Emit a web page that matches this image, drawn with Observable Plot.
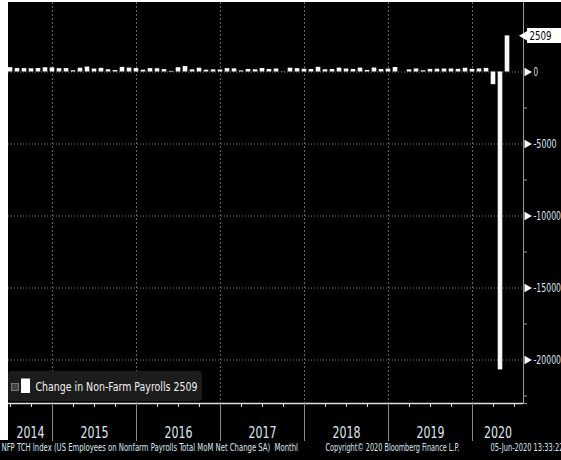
<!DOCTYPE html>
<html><head><meta charset="utf-8">
<script src="https://cdn.jsdelivr.net/npm/d3@7"></script>
<script src="https://cdn.jsdelivr.net/npm/@observablehq/plot@0.6"></script>
<style>
html,body{margin:0;padding:0;background:#000;}
svg{display:block;}
</style></head><body><div id="chart"></div>
<script>
// ---- data ----
const months = [
  "2014-06","2014-07","2014-08","2014-09","2014-10","2014-11","2014-12",
  "2015-01","2015-02","2015-03","2015-04","2015-05","2015-06","2015-07","2015-08","2015-09","2015-10","2015-11","2015-12",
  "2016-01","2016-02","2016-03","2016-04","2016-05","2016-06","2016-07","2016-08","2016-09","2016-10","2016-11","2016-12",
  "2017-01","2017-02","2017-03","2017-04","2017-05","2017-06","2017-07","2017-08","2017-09","2017-10","2017-11","2017-12",
  "2018-01","2018-02","2018-03","2018-04","2018-05","2018-06","2018-07","2018-08","2018-09","2018-10","2018-11","2018-12",
  "2019-01","2019-02","2019-03","2019-04","2019-05","2019-06","2019-07","2019-08","2019-09","2019-10","2019-11","2019-12",
  "2020-01","2020-02","2020-03","2020-04","2020-05"
];
const payrolls = [
  304,240,236,226,243,296,290,
  234,238,86,262,344,206,254,157,100,321,272,239,
  126,237,225,167,43,297,379,149,265,125,148,140,
  237,219,73,175,155,243,178,209,14,265,235,191,
  176,324,155,175,268,208,177,272,111,277,170,200,
  312,1,147,210,85,182,194,207,208,185,261,184,
  214,251,-881,-20687,2509
];
const yearLabels = ["2014","2015","2016","2017","2018","2019","2020"];
const yMajorTicks = [0,-5000,-10000,-15000,-20000];
const yMinorTicks = [2500,-2500,-7500,-12500,-17500,-22500];
const lastValueLabel = "2509";
const legendLabel = "Change in Non-Farm Payrolls 2509";
const footerLeft = "NFP TCH Index (US Employees on Nonfarm Payrolls Total MoM Net Change SA)  Monthl";
const footerMid = "Copyright\u00A9 2020 Bloomberg Finance L.P.";
const footerRight = "05-Jun-2020 13:33:22";

// ---- helpers (month index: months since Jan 2014; bar centred at month end) ----
const mIndex = s => (+s.slice(0,4) - 2014) * 12 + (+s.slice(5,7) - 1);
const data = months.map((s, i) => ({m: mIndex(s), v: payrolls[i]}));
const X0 = 8, X1 = 523, Y0 = 2, Y1 = 403;
const pxPerMonth = 7;
const xmin = (X0 + 25) / pxPerMonth, xmax = (X1 + 25) / pxPerMonth;
const xAt = px => xmin + (px - X0) / pxPerMonth;
const zeroPx = 71.5, pxPer5000 = 72;
const val = py => (zeroPx - py) / pxPer5000 * 5000;
const ymin = val(Y1), ymax = val(Y0);

const boundaries = yearLabels.slice(1).map(y => (+y - 2014) * 12 - 1);
const quarterTicks = d3.range(5, 78, 3);
const yearCenters = yearLabels.map(y => {
  const a = Math.max((+y - 2014) * 12 - 1, xmin), b = Math.min((+y - 2013) * 12 - 1, xmax);
  return {x: (a + b) / 2, t: y};
});

const narrow = "'Liberation Sans Narrow','Arial Narrow','DejaVu Sans Condensed',sans-serif";
const txt = "#dfe8f2";

const chart = Plot.plot({
  width: 561, height: 460,
  marginLeft: X0, marginRight: 561 - X1, marginTop: Y0, marginBottom: 460 - Y1,
  style: {background: "#000", color: "#fff", overflow: "visible", fontFamily: narrow},
  x: {domain: [xmin, xmax], axis: null},
  y: {domain: [ymin, ymax], axis: null},
  marks: [
    // white border strips
    Plot.rect([0], {x1: xAt(0), x2: xAt(8), y1: val(0), y2: val(440), fill: "#fff"}),
    Plot.rect([0], {x1: xAt(0), x2: xAt(561), y1: val(0), y2: val(2), fill: "#fff"}),
    // grid
    Plot.ruleY(yMajorTicks, {y: d => d, stroke: "#777", strokeDasharray: "1,2"}),
    Plot.ruleX(boundaries, {x: d => d, stroke: "#666", strokeDasharray: "2,2"}),
    // bars
    Plot.rect(data, {x1: d => d.m - 0.33, x2: d => d.m + 0.33, y1: 0, y2: "v", fill: "#f8f8f8"}),
    // right axis
    Plot.ruleX([xmax], {x: d => d, y1: ymax, y2: ymin, stroke: "#9a9a9a"}),
    Plot.ruleY(yMinorTicks.concat([ymin]), {y: d => d, x1: xmax, x2: xAt(527), stroke: "#9a9a9a"}),
    Plot.dot(yMajorTicks, {x: xmax, y: d => d, dx: 3.5, symbol: "triangle", rotate: 90, r: 3.2, fill: "#fff", stroke: "none"}),
    Plot.text(yMajorTicks, {x: xmax, y: d => d, dx: 10, text: d => String(d), textAnchor: "start", fill: txt, fontSize: 13}),
    // last value tag
    Plot.rect([0], {x1: xAt(527), x2: xAt(561), y1: val(28), y2: val(43), fill: "#fff"}),
    Plot.dot([2509], {x: xmax, y: d => d, dx: 2.5, symbol: "triangle", rotate: -90, r: 4.5, fill: "#fff", stroke: "none"}),
    Plot.text([lastValueLabel], {x: xAt(529), y: 2509, text: d => d, textAnchor: "start", fill: "#000", fontSize: 13}),
    // bottom axis
    Plot.ruleY([ymin], {y: d => d, stroke: "#e0e0e0", strokeWidth: 1.5}),
    Plot.ruleX(quarterTicks, {x: d => d, y1: ymin, y2: val(407), stroke: "#e0e0e0"}),
    Plot.ruleX(boundaries, {x: d => d, y1: ymin, y2: val(441), stroke: "#8a8a8a"}),
    Plot.text(yearCenters, {x: "x", y: val(432), text: "t", fill: txt, fontSize: 16}),
    // legend
    Plot.rect([0], {x1: xAt(8), x2: xAt(202), y1: val(371), y2: val(401), fill: "#1e1e1e", fillOpacity: 0.92, rx: 4}),
    Plot.rect([0], {x1: xAt(11.5), x2: xAt(18.5), y1: val(383.5), y2: val(390.5), fill: "#444", stroke: "#888", strokeWidth: 0.8}),
    Plot.rect([0], {x1: xAt(21), x2: xAt(30), y1: val(378.5), y2: val(393), fill: "#fff"}),
    Plot.text([legendLabel], {x: xAt(35), y: val(386), text: d => d, textAnchor: "start", fill: "#f2f2f2", fontSize: 13}),
    // footer
    Plot.text([footerLeft], {x: xAt(1), y: val(447.5), text: d => d, textAnchor: "start", fill: txt, fontSize: 10}),
    Plot.text([footerMid], {x: xAt(325), y: val(447.5), text: d => d, textAnchor: "start", fill: txt, fontSize: 10}),
    Plot.text([footerRight], {x: xAt(490), y: val(447.5), text: d => d, textAnchor: "start", fill: txt, fontSize: 10})
  ]
});
document.getElementById("chart").append(chart);

// condense text horizontally (Bloomberg terminal font is very narrow)
const widths = new Map([
  [footerLeft, 297], [footerMid, 134], [footerRight, 73],
  [legendLabel, 162], [lastValueLabel, 22]
]);
yearLabels.forEach(y => widths.set(y, 28));
yMajorTicks.forEach(t => widths.set(String(t), String(t).length * 4.6));
d3.select(chart).selectAll("text").each(function() {
  const w = widths.get(this.textContent);
  if (!w) return;
  const natural = this.getComputedTextLength();
  if (!natural) return;
  const sx = w / natural;
  const t = this.getAttribute("transform") || "";
  this.setAttribute("transform", `${t} scale(${sx.toFixed(4)},1)`.trim());
});
</script></body></html>
